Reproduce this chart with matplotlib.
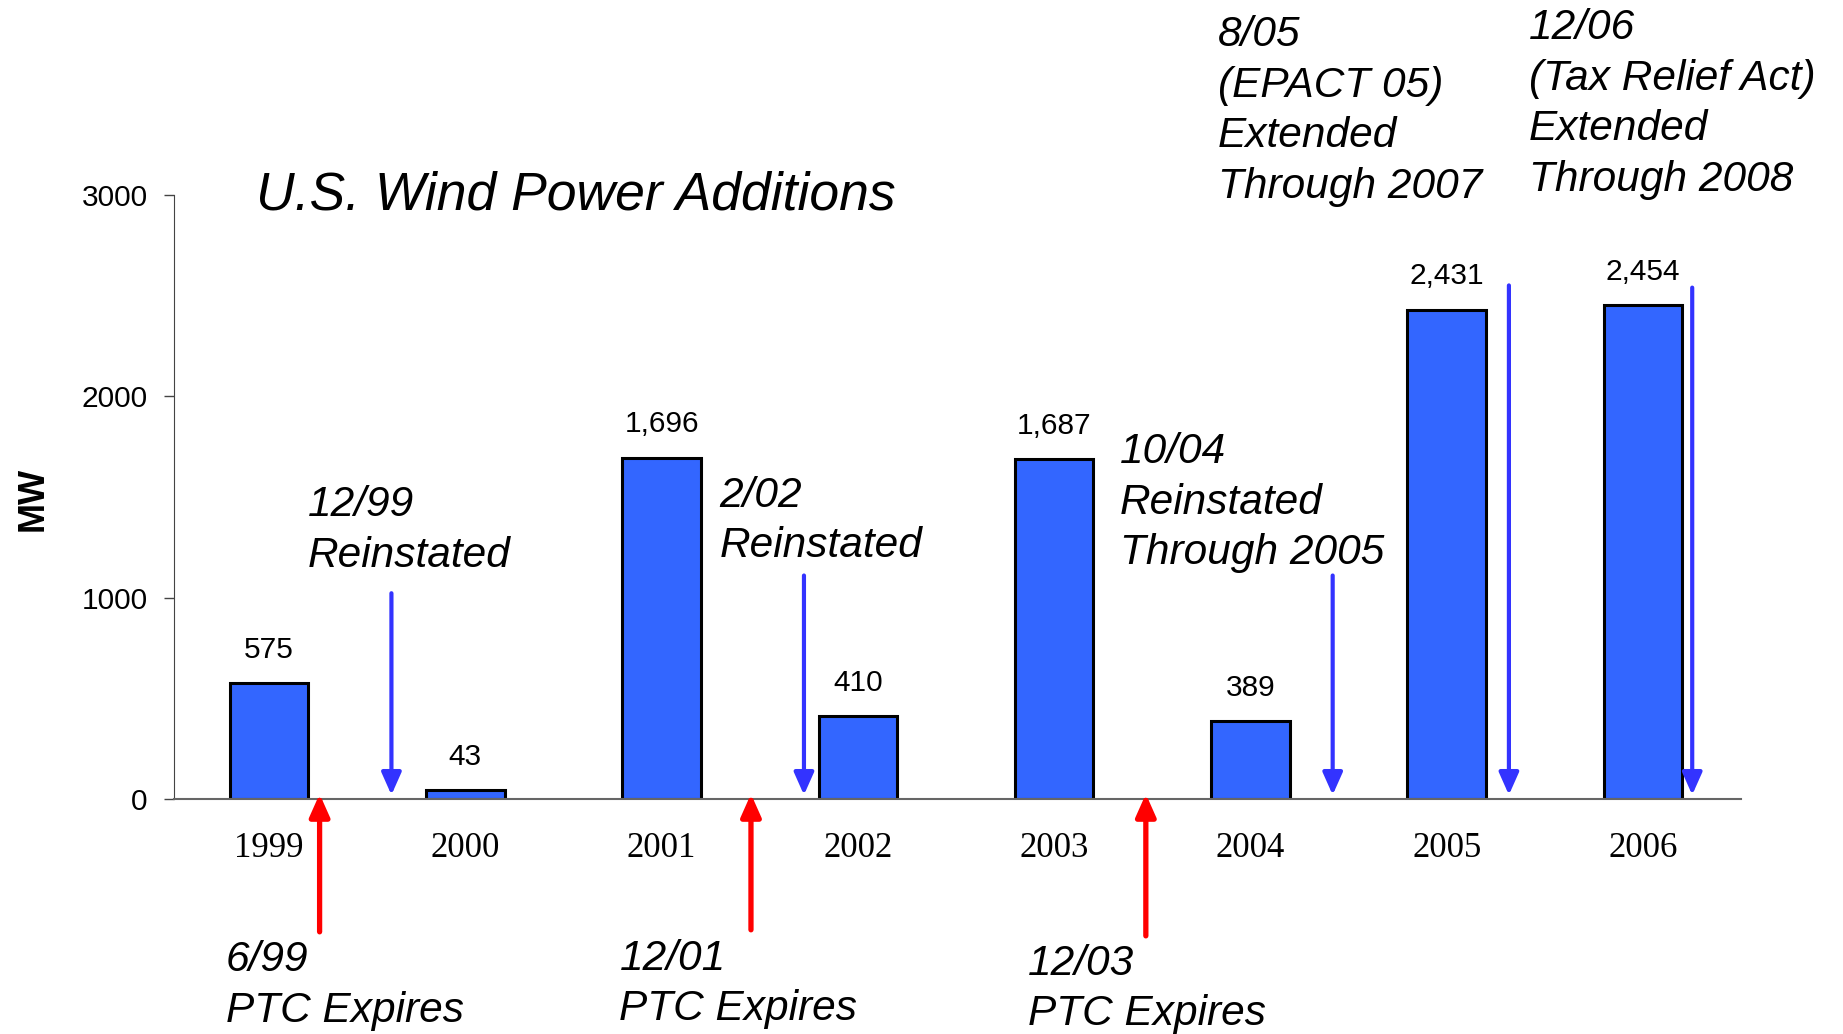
import matplotlib
matplotlib.use("Agg")
import matplotlib.pyplot as plt

# data
YEARS = ["1999", "2000", "2001", "2002", "2003", "2004", "2005", "2006"]
ADDITIONS_MW = [575, 43, 1696, 410, 1687, 389, 2431, 2454]
VALUE_LABELS = ["575", "43", "1,696", "410", "1,687", "389", "2,431", "2,454"]

# PTC expiry events (red, pointing up) and reinstatements (blue, pointing down)
EXPIRY_X = [0.257, 2.455, 4.467]
EXPIRY_TAIL = [-660, -650, -680]
EXTEND_X = [0.623, 2.725, 5.419, 6.317, 7.251]
EXTEND_TAIL = [1022, 1110, 1110, 2551, 2540]

BAR_COLOR = "#3366ff"
UP_COLOR = "#ff0000"
DOWN_COLOR = "#3333ff"
SANS = "Liberation Sans"
SERIF = "Liberation Serif"


def main() -> None:
    fig = plt.figure(figsize=(18.43, 10.34), dpi=100)
    ax = fig.add_axes([0.0944, 0.2273, 0.8503, 0.5841])

    x = range(len(YEARS))
    ax.bar(x, ADDITIONS_MW, width=0.4, color=BAR_COLOR, edgecolor="black",
           linewidth=2.2, zorder=2)
    for xi, v, lab in zip(x, ADDITIONS_MW, VALUE_LABELS):
        ax.text(xi, v + 95, lab, ha="center", va="bottom", fontsize=21.5,
                family=SANS)

    for xe, tail in zip(EXPIRY_X, EXPIRY_TAIL):
        ax.annotate("", xy=(xe, 25), xytext=(xe, tail), annotation_clip=False,
                    arrowprops=dict(arrowstyle="-|>,head_length=0.45,head_width=0.2",
                                    mutation_scale=30, color=UP_COLOR, lw=3.8,
                                    shrinkA=0, shrinkB=0))
    for xe, tail in zip(EXTEND_X, EXTEND_TAIL):
        ax.annotate("", xy=(xe, 20), xytext=(xe, tail), annotation_clip=False,
                    arrowprops=dict(arrowstyle="-|>,head_length=0.45,head_width=0.2",
                                    mutation_scale=30, color=DOWN_COLOR, lw=3,
                                    shrinkA=0, shrinkB=0))

    ax.set_xlim(-0.485, 7.5)
    ax.set_ylim(0, 3000)
    ax.set_yticks([0, 1000, 2000, 3000])
    ax.set_xticks(list(x))
    ax.set_xticklabels(YEARS, family=SERIF, fontsize=25)
    ax.set_yticklabels(["0", "1000", "2000", "3000"], family=SANS, fontsize=21.5)
    ax.tick_params(axis="x", length=0, pad=24)
    ax.tick_params(axis="y", length=7, width=1, pad=12, color="#444444")
    for side in ("top", "right"):
        ax.spines[side].set_visible(False)
    ax.spines["left"].set_color("#444444")
    ax.spines["bottom"].set_color("#666666")
    ax.spines["bottom"].set_linewidth(1.5)

    fig.text(0.0179, 0.517, "MW", rotation=90, ha="center", va="center",
             fontsize=26, fontweight="bold", family=SANS)
    fig.text(0.139, 0.8352, "U.S. Wind Power Additions", ha="left", va="top",
             fontsize=38.5, style="italic", family=SANS)

    notes = [
        (0.1671, 0.5307, "12/99\nReinstated"),
        (0.3903, 0.5398, "2/02\nReinstated"),
        (0.6078, 0.5818, "10/04\nReinstated\nThrough 2005"),
        (0.6607, 0.9852, "8/05\n(EPACT 05)\nExtended\nThrough 2007"),
        (0.8297, 0.9920, "12/06\n(Tax Relief Act)\nExtended\nThrough 2008"),
        (0.1224, 0.0909, "6/99\nPTC Expires"),
        (0.3361, 0.0920, "12/01\nPTC Expires"),
        (0.5580, 0.0875, "12/03\nPTC Expires"),
    ]
    for nx, ny, txt in notes:
        fig.text(nx, ny, txt, ha="left", va="top", fontsize=30.5,
                 style="italic", family=SANS, linespacing=1.34)

    fig.savefig("out.png", dpi=100)


if __name__ == "__main__":
    main()
